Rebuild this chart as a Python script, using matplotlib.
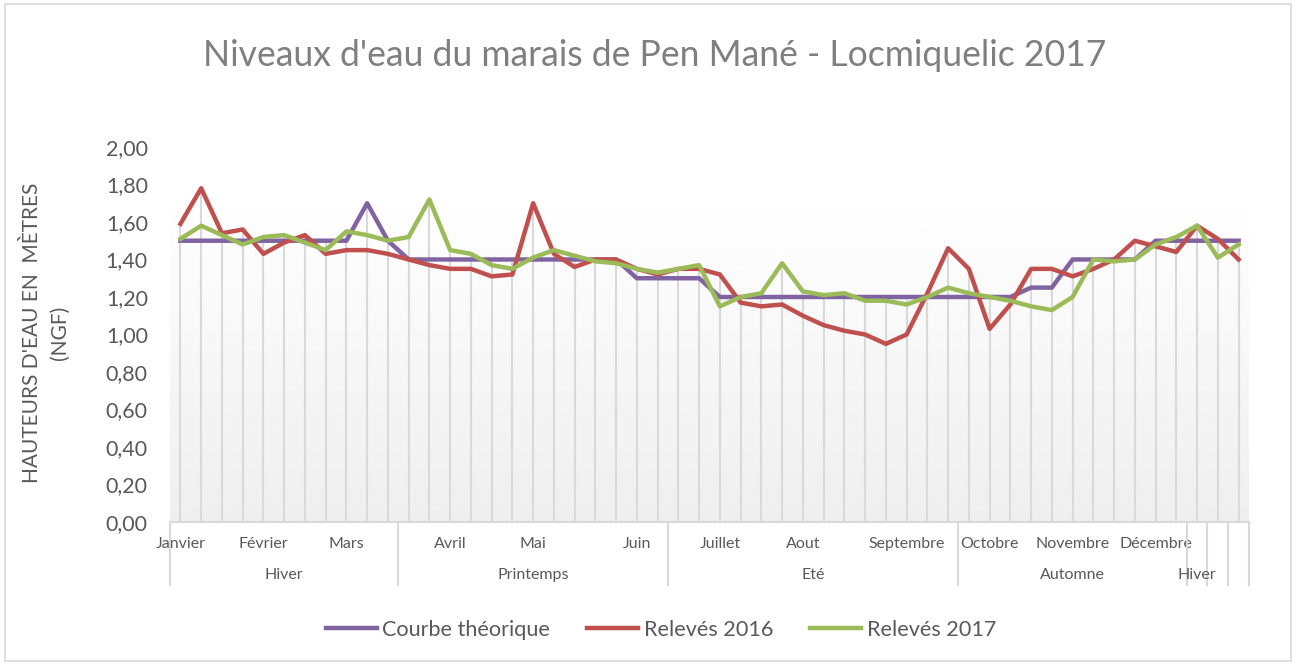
import numpy as np
import matplotlib
matplotlib.use("Agg")
import matplotlib.pyplot as plt
from matplotlib import transforms
from matplotlib.patches import Rectangle

plt.rcParams["font.family"] = ["Lato", "DejaVu Sans"]

# Relevés hebdomadaires (52 semaines)
courbe_theorique = [1.50, 1.50, 1.50, 1.50, 1.50, 1.50, 1.50, 1.50, 1.50, 1.70,
                    1.50, 1.40, 1.40, 1.40, 1.40, 1.40, 1.40, 1.40, 1.40, 1.40,
                    1.40, 1.40, 1.30, 1.30, 1.30, 1.30, 1.20, 1.20, 1.20, 1.20,
                    1.20, 1.20, 1.20, 1.20, 1.20, 1.20, 1.20, 1.20, 1.20, 1.20,
                    1.20, 1.25, 1.25, 1.40, 1.40, 1.40, 1.40, 1.50, 1.50, 1.50,
                    1.50, 1.50]
releves_2016 = [1.59, 1.78, 1.54, 1.56, 1.43, 1.49, 1.53, 1.43, 1.45, 1.45,
                1.43, 1.40, 1.37, 1.35, 1.35, 1.31, 1.32, 1.70, 1.43, 1.36,
                1.40, 1.40, 1.35, 1.32, 1.35, 1.35, 1.32, 1.17, 1.15, 1.16,
                1.10, 1.05, 1.02, 1.00, 0.95, 1.00, 1.22, 1.46, 1.35, 1.03,
                1.16, 1.35, 1.35, 1.31, 1.35, 1.40, 1.50, 1.47, 1.44, 1.58,
                1.51, 1.40]
releves_2017 = [1.51, 1.58, 1.53, 1.48, 1.52, 1.53, 1.49, 1.45, 1.55, 1.53,
                1.50, 1.52, 1.72, 1.45, 1.43, 1.37, 1.35, 1.41, 1.45, 1.42,
                1.39, 1.38, 1.35, 1.33, 1.35, 1.37, 1.15, 1.20, 1.22, 1.38,
                1.23, 1.21, 1.22, 1.18, 1.18, 1.16, 1.20, 1.25, 1.22, 1.20,
                1.18, 1.15, 1.13, 1.20, 1.40, 1.39, 1.40, 1.48, 1.52, 1.58,
                1.41, 1.48]

mois_idx = [0, 4, 8, 13, 17, 22, 26, 30, 35, 39, 43, 47]
mois = ["Janvier", "Février", "Mars", "Avril", "Mai", "Juin", "Juillet",
        "Aout", "Septembre", "Octobre", "Novembre", "Décembre"]
saisons = ["Hiver", "Printemps", "Eté", "Automne", "Hiver", "", ""]
saisons_bornes = [0, 11, 24, 38, 49, 50, 51, 52]
y_ticks = [0.0, 0.2, 0.4, 0.6, 0.8, 1.0, 1.2, 1.4, 1.6, 1.8, 2.0]

GRIS_TEXTE = "#595959"
GRIS_LIGNE = "#d9d9d9"

fig = plt.figure(figsize=(12.96, 6.65), dpi=100)
ax = fig.add_axes([0.1312, 0.215, 0.8325, 0.564])

x = np.arange(len(courbe_theorique))

# fond en dégradé
grad = np.linspace(0.935, 1.0, 256).reshape(-1, 1)
ax.imshow(grad, extent=(-0.5, len(x) - 0.5, 0, 1.75), origin="lower",
          cmap="gray", vmin=0, vmax=1, aspect="auto", zorder=0)

# lignes de projection
top = np.maximum.reduce([courbe_theorique, releves_2016, releves_2017])
ax.vlines(x, 0, top, color=GRIS_LIGNE, lw=1.5, zorder=1)

ax.plot(x, courbe_theorique, color="#8064a2", lw=3.2, label="Courbe théorique",
        zorder=3, solid_joinstyle="round")
ax.plot(x, releves_2016, color="#c0504d", lw=3.2, label="Relevés 2016",
        zorder=3, solid_joinstyle="round")
ax.plot(x, releves_2017, color="#9bbb59", lw=3.2, label="Relevés 2017",
        zorder=4, solid_joinstyle="round")

ax.set_xlim(-0.5, len(x) - 0.5)
ax.set_ylim(0, 2.0)
ax.set_yticks(y_ticks)
ax.set_yticklabels([f"{v:.2f}".replace(".", ",") for v in y_ticks])
ax.tick_params(axis="y", length=0, pad=16, labelsize=15.5, labelcolor=GRIS_TEXTE)

ax.set_xticks(mois_idx)
ax.set_xticklabels(mois)
ax.tick_params(axis="x", length=0, pad=11, labelsize=11.5, labelcolor=GRIS_TEXTE)

for s in ["top", "right", "left"]:
    ax.spines[s].set_visible(False)
ax.spines["bottom"].set_color(GRIS_LIGNE)
ax.spines["bottom"].set_linewidth(1.5)

# axe multi-niveaux : saisons
trans = transforms.blended_transform_factory(ax.transData, ax.transAxes)
for b in saisons_bornes:
    ax.plot([b - 0.5, b - 0.5], [0, -0.168], transform=trans, color=GRIS_LIGNE,
            lw=1.5, clip_on=False)
for nom, a, b in zip(saisons, saisons_bornes[:-1], saisons_bornes[1:]):
    if nom:
        ax.text((a + b) / 2 - 0.5, -0.142, nom, transform=trans, ha="center",
                va="center", fontsize=11.5, color=GRIS_TEXTE)

fig.text(0.0355, 0.50, "HAUTEURS D'EAU EN  MÈTRES\n(NGF)", rotation=90,
         ha="center", va="center", multialignment="center", fontsize=15,
         color=GRIS_TEXTE, linespacing=1.45)

fig.suptitle("Niveaux d'eau du marais de Pen Mané - Locmiquelic 2017",
             x=0.505, y=0.917, va="center", fontsize=25.6, color="#7f7f7f")

ax.legend(loc="center", bbox_to_anchor=(0.455, -0.288), ncol=3, frameon=False,
          fontsize=15.6, labelcolor=GRIS_TEXTE, handlelength=2.35,
          handletextpad=0.27, columnspacing=1.7)

fig.patches.append(Rectangle((0.004, 0.006), 0.992, 0.988, transform=fig.transFigure,
                             fill=False, edgecolor=GRIS_LIGNE, lw=1.2))

fig.savefig("out.png", dpi=100)
